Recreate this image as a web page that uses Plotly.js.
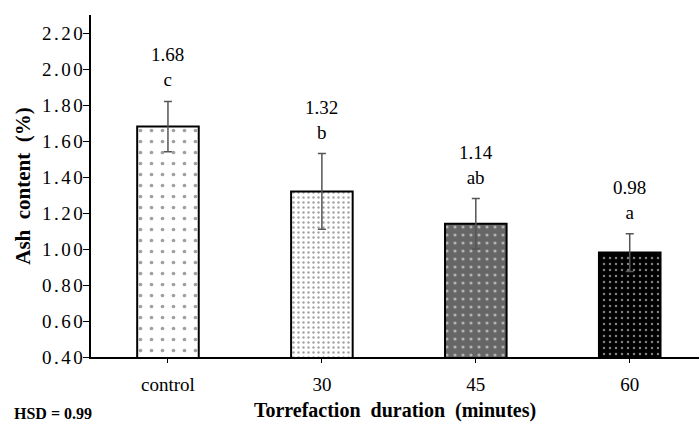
<!DOCTYPE html>
<html>
<head>
<meta charset="utf-8">
<script src="https://cdn.plot.ly/plotly-3.0.1.min.js"></script>
<style>
  html, body { margin: 0; padding: 0; background: #fff; }
  #chart { width: 699px; height: 424px; }
  .yaxislayer-above .ytick text { letter-spacing: 2.5px; }
</style>
</head>
<body>
<div id="chart"></div>
<script>
// ---- data ----
const categories   = ['control', '30', '45', '60'];
const ashContent   = [1.68, 1.32, 1.14, 0.98];
const errorSD      = [0.14, 0.21, 0.14, 0.105];
const groupLetters = ['c', 'b', 'ab', 'a'];
const hsdText      = 'HSD = 0.99';

const FONT = 'Liberation Serif';

const trace = {
  type: 'bar',
  x: categories,
  y: ashContent,
  width: 0.40,
  marker: {
    color: ['#ffffff', '#ffffff', '#666666', '#000000'],
    line: { color: '#000000', width: 2 },
    pattern: {
      shape: '.',
      fillmode: 'overlay',
      fgcolor: ['#000000', '#000000', '#ffffff', '#ffffff'],
      size: [11, 5, 8, 6],
      solidity: [0.09, 0.18, 0.12, 0.14]
    }
  },
  error_y: {
    type: 'data',
    array: errorSD,
    visible: true,
    color: '#555555',
    thickness: 1.5,
    width: 4
  },
  hoverinfo: 'skip'
};

const annotations = categories.map((c, i) => ({
  x: i,
  y: ashContent[i] + errorSD[i],
  xref: 'x', yref: 'y',
  text: ashContent[i].toFixed(2) + '<br>' + groupLetters[i],
  showarrow: false,
  xanchor: 'center',
  yanchor: 'bottom',
  yshift: 9,
  font: { family: FONT, size: 19, color: '#000' }
}));

annotations.push({
  xref: 'paper', yref: 'paper',
  x: -0.0625, y: -0.164,
  xanchor: 'center', yanchor: 'middle',
  text: hsdText,
  showarrow: false,
  font: { family: FONT, size: 16, color: '#000', weight: 'bold' }
});

const layout = {
  width: 699,
  height: 424,
  margin: { l: 91, r: 0, t: 15, b: 67, pad: 0 },
  paper_bgcolor: '#ffffff',
  plot_bgcolor: '#ffffff',
  showlegend: false,
  font: { family: FONT, color: '#000' },
  xaxis: {
    type: 'category',
    range: [-0.5, 3.45],
    showline: true,
    linecolor: '#000',
    linewidth: 1.5,
    ticks: 'outside',
    ticklen: 4,
    tickcolor: '#000',
    tickwidth: 1,
    showgrid: false,
    zeroline: false,
    tickfont: { family: FONT, size: 19, color: '#000' },
    ticklabelstandoff: 6,
    title: {
      text: 'Torrefaction&nbsp; duration&nbsp; (minutes)',
      font: { family: FONT, size: 20, color: '#000', weight: 'bold' },
      standoff: 8
    }
  },
  yaxis: {
    range: [0.4, 2.3],
    dtick: 0.2,
    tick0: 0.4,
    tickformat: '.2f',
    showline: true,
    linecolor: '#000',
    linewidth: 2,
    ticks: 'outside',
    ticklen: 6,
    tickcolor: '#000',
    tickwidth: 1,
    showgrid: false,
    zeroline: false,
    tickfont: { family: FONT, size: 19, color: '#000' },
    ticklabelstandoff: -6,
    title: {
      text: 'Ash&nbsp;&nbsp;content&nbsp;&nbsp;(%)',
      font: { family: FONT, size: 21, color: '#000', weight: 'bold' },
      standoff: 16
    }
  },
  annotations: annotations
};

Plotly.newPlot('chart', [trace], layout, { displayModeBar: false, staticPlot: true });
</script>
</body>
</html>
